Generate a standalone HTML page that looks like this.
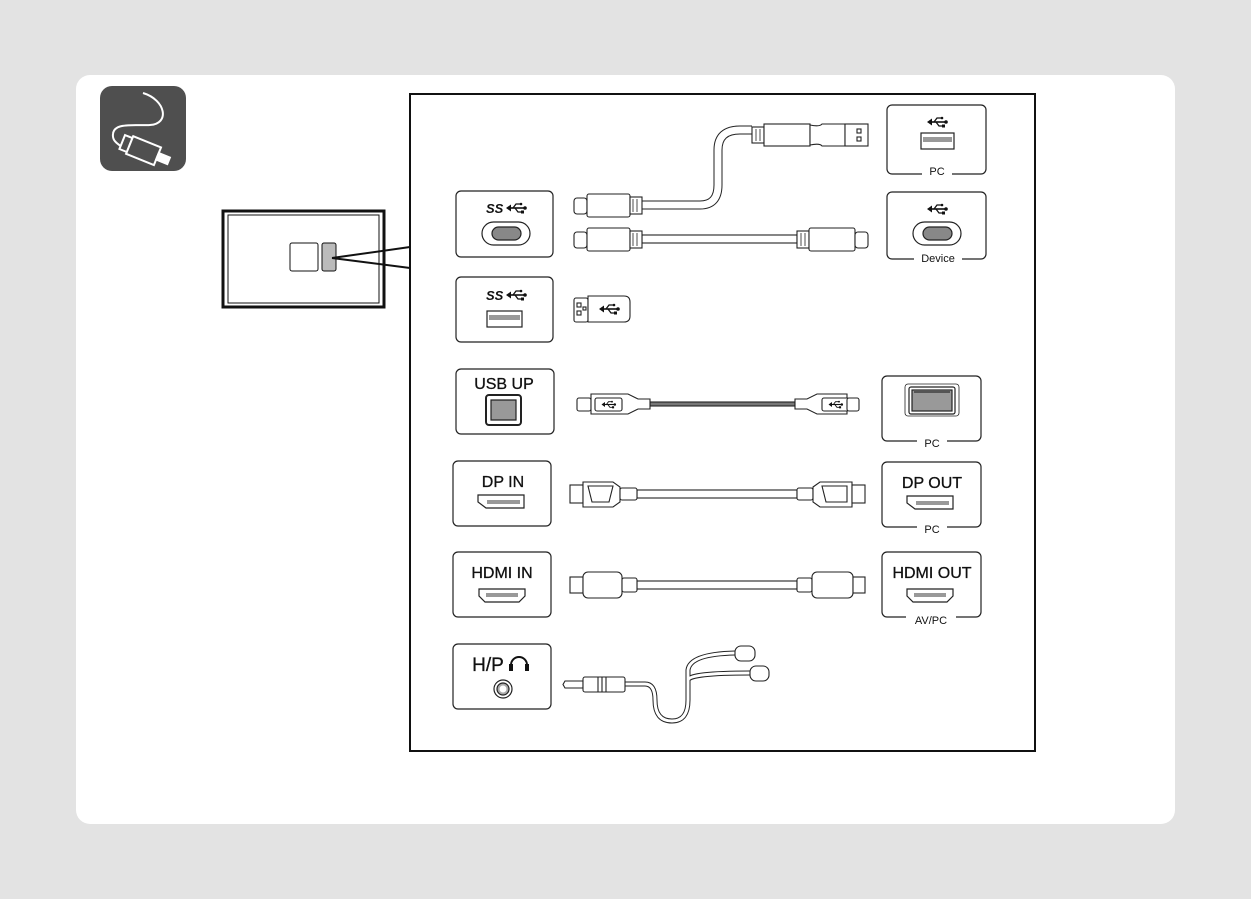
<!DOCTYPE html>
<html><head><meta charset="utf-8"><style>
html,body{margin:0;padding:0;background:#e3e3e3;}
svg{display:block;}
text{font-family:"Liberation Sans",sans-serif;fill:#111;}
</style></head><body>
<svg width="1251" height="899" viewBox="0 0 1251 899" xmlns="http://www.w3.org/2000/svg">
<defs>
<g id="tri">
<path d="M-7 0 H8" stroke="#111" stroke-width="1.6" fill="none"/>
<path d="M-10 0 L-5 -3.5 V3.5 Z" fill="#111"/>
<circle cx="9" cy="0" r="1.8" fill="#111"/>
<path d="M-3 0 L0 -4 H5 M-1 0 L2 4 H6" stroke="#111" stroke-width="1.3" fill="none"/>
<circle cx="5" cy="-4" r="1.3" fill="#111"/>
<rect x="5" y="2.5" width="3" height="3" fill="#111"/>
</g>
</defs>
<rect x="0" y="0" width="1251" height="899" fill="#e3e3e3"/>
<rect x="76" y="75" width="1099" height="749" rx="14" fill="#fff"/>
<rect x="100" y="86" width="86" height="85" rx="12" fill="#4f4f4f"/>
<path d="M143 93 C166 100 170 124 150 125 C135 126 114 122 113 134 C112 141 118 144 122 147" stroke="#fff" stroke-width="2" fill="none"/>
<g transform="rotate(22 148 153)" fill="#4f4f4f" stroke="#fff" stroke-width="2">
<rect x="120" y="145" width="8" height="15"/>
<rect x="128" y="143" width="30" height="19"/>
<rect x="158" y="149" width="12" height="7" fill="#fff"/>
</g>
<rect x="223" y="211" width="161" height="96" fill="none" stroke="#111" stroke-width="3"/>
<rect x="228" y="215" width="151" height="88" fill="none" stroke="#111" stroke-width="1"/>
<rect x="290" y="243" width="28" height="28" rx="2" fill="#fff" stroke="#111" stroke-width="1"/>
<rect x="322" y="243" width="14" height="28" rx="2" fill="#bbb" stroke="#111" stroke-width="1"/>
<path d="M332 258 L410 247 M332 258 L410 268" stroke="#111" stroke-width="2" fill="none"/>
<rect x="410" y="94" width="625" height="657" fill="#fff" stroke="#111" stroke-width="2"/>
<g fill="#fff" stroke="#222" stroke-width="1.2">
<rect x="456" y="191" width="97" height="66" rx="5"/>
<rect x="456" y="277" width="97" height="65" rx="5"/>
<rect x="456" y="369" width="98" height="65" rx="5"/>
<rect x="453" y="461" width="98" height="65" rx="5"/>
<rect x="453" y="552" width="98" height="65" rx="5"/>
<rect x="453" y="644" width="98" height="65" rx="5"/>
<rect x="887" y="105" width="99" height="69" rx="5"/>
<rect x="887" y="192" width="99" height="67" rx="5"/>
<rect x="882" y="376" width="99" height="65" rx="5"/>
<rect x="882" y="462" width="99" height="65" rx="5"/>
<rect x="882" y="552" width="99" height="65" rx="5"/>
</g>
<g fill="#fff">
<rect x="922" y="170" width="30" height="8"/>
<rect x="914" y="255" width="48" height="8"/>
<rect x="917" y="437" width="30" height="8"/>
<rect x="917" y="523" width="30" height="8"/>
<rect x="906" y="613" width="50" height="8"/>
</g>
<g font-size="11" text-anchor="middle">
<text x="937" y="175">PC</text>
<text x="938" y="262">Device</text>
<text x="932" y="447">PC</text>
<text x="932" y="533">PC</text>
<text x="931" y="624">AV/PC</text>
</g>
<g font-size="16" text-anchor="middle" stroke="#111" stroke-width="0.3">
<text x="504" y="389">USB UP</text>
<text x="503" y="487">DP IN</text>
<text x="502" y="578">HDMI IN</text>
<text x="932" y="488">DP OUT</text>
<text x="932" y="578">HDMI OUT</text>
<text x="488" y="671" font-size="19">H/P</text>
</g>
<g font-size="13" font-weight="bold" font-style="italic">
<text x="486" y="213">SS</text><text x="486" y="300">SS</text>
</g>
<use href="#tri" x="516" y="208"/>
<use href="#tri" x="516" y="295"/>
<use href="#tri" x="937" y="122"/>
<use href="#tri" x="937" y="209"/>
<path d="M511 669 v-4 a8 8 0 0 1 16 0 v4" stroke="#111" stroke-width="2" fill="none"/>
<rect x="509" y="664" width="4" height="7" fill="#111"/><rect x="525" y="664" width="4" height="7" fill="#111"/>
<g stroke="#222" stroke-width="1.2">
<rect x="482" y="222" width="48" height="23" rx="11.5" fill="#fff"/>
<rect x="492" y="227" width="29" height="13" rx="6.5" fill="#888"/>
<rect x="913" y="222" width="48" height="23" rx="11.5" fill="#fff"/>
<rect x="923" y="227" width="29" height="13" rx="6.5" fill="#888"/>
<rect x="487" y="311" width="35" height="16" fill="#fff"/>
<rect x="921" y="133" width="33" height="16" fill="#fff"/>
<rect x="486" y="395" width="35" height="30" rx="3" fill="#fff" stroke-width="2"/>
<path d="M491 400 h25 v20 h-25 v-14 z" fill="#999"/>
<rect x="905" y="384" width="54" height="32" rx="3" fill="#fff" stroke-width="0.8"/>
<rect x="909" y="387" width="46" height="27" rx="2" fill="#fff"/>
<rect x="912" y="390" width="40" height="21" fill="#999"/>
<path d="M478 495 h46 v13 h-38 l-8 -6 z" fill="#fff"/>
<path d="M907 496 h46 v13 h-38 l-8 -6 z" fill="#fff"/>
<path d="M479 589 h46 v7 l-6 6 h-34 l-6 -6 z" fill="#fff"/>
<path d="M907 589 h46 v7 l-6 6 h-34 l-6 -6 z" fill="#fff"/>
<circle cx="503" cy="689" r="9" fill="#fff"/>
<circle cx="503" cy="689" r="6" fill="#aaa"/>
</g>
<g fill="#999">
<rect x="489" y="315" width="31" height="5"/>
<rect x="923" y="137" width="29" height="5"/>
<rect x="914" y="390" width="36" height="3" fill="#555"/>
<rect x="487" y="500" width="33" height="4"/>
<rect x="916" y="501" width="33" height="4"/>
<rect x="486" y="593" width="32" height="4"/>
<rect x="914" y="593" width="32" height="4"/>
<circle cx="503" cy="689" r="3.5" fill="#fff"/>
</g>
<g fill="#fff" stroke="#222" stroke-width="1.1">
<path d="M642 205 H700 Q718 205 718 185 V150 Q718 130 740 130 H752" fill="none" stroke-width="9"/>
<path d="M642 205 H700 Q718 205 718 185 V150 Q718 130 740 130 H752" fill="none" stroke="#fff" stroke-width="7"/>
<rect x="574" y="198" width="13" height="16" rx="3"/>
<rect x="587" y="194" width="43" height="23" rx="2"/>
<rect x="630" y="197" width="12" height="17"/>
<path d="M633 199 v13 M637 199 v13" fill="none" stroke-width="0.8"/>
<rect x="752" y="127" width="12" height="16"/>
<path d="M756 129 v12 M760 129 v12" fill="none" stroke-width="0.8"/>
<rect x="764" y="124" width="46" height="22"/>
<path d="M810 125 q10 2 12 -1 h23 v22 h-23 q-2 -3 -12 -1 z"/>
<rect x="845" y="124" width="23" height="22"/>
<rect x="857" y="129" width="4" height="4"/><rect x="857" y="137" width="4" height="4"/>
<rect x="642" y="235" width="155" height="8"/>
<rect x="574" y="232" width="13" height="16" rx="3"/>
<rect x="587" y="228" width="43" height="23" rx="2"/>
<rect x="630" y="231" width="12" height="17"/>
<path d="M633 233 v13 M637 233 v13" fill="none" stroke-width="0.8"/>
<rect x="797" y="231" width="12" height="17"/>
<path d="M801 233 v13 M805 233 v13" fill="none" stroke-width="0.8"/>
<rect x="809" y="228" width="46" height="23" rx="2"/>
<rect x="855" y="232" width="13" height="16" rx="3"/>
<rect x="574" y="298" width="14" height="24" rx="2"/>
<path d="M588 296 h36 q6 0 6 6 v14 q0 6 -6 6 h-36 z"/>
<rect x="577" y="303" width="4" height="4"/><rect x="577" y="311" width="4" height="4"/><rect x="583" y="307" width="3" height="3"/>
<rect x="650" y="402" width="145" height="4" fill="#777"/>
<rect x="577" y="398" width="14" height="13" rx="2"/>
<path d="M591 394 h37 l10 5 h12 v10 h-12 l-10 5 h-37 z"/>
<rect x="595" y="398" width="27" height="13" rx="2"/>
<path d="M795 399 h12 l10 -5 h30 v20 h-30 l-10 -5 h-12 z"/>
<rect x="822" y="398" width="27" height="13" rx="2"/>
<rect x="847" y="398" width="12" height="13" rx="2"/>
<rect x="637" y="490" width="160" height="8"/>
<rect x="570" y="485" width="13" height="18"/>
<path d="M583 482 h30 l7 5 v15 l-7 5 h-30 z"/>
<rect x="620" y="488" width="17" height="12" rx="2"/>
<path d="M588 486 h25 l-4 16 h-17 z" fill="none"/>
<rect x="797" y="488" width="16" height="12" rx="2"/>
<path d="M813 487 l7 -5 h32 v25 h-32 l-7 -5 z"/>
<path d="M822 486 h25 v16 h-21 z" fill="none"/>
<rect x="852" y="485" width="13" height="18"/>
<rect x="637" y="581" width="160" height="8"/>
<rect x="570" y="577" width="13" height="16"/>
<rect x="583" y="572" width="39" height="26" rx="5"/>
<rect x="622" y="578" width="15" height="14" rx="2"/>
<rect x="797" y="578" width="15" height="14" rx="2"/>
<rect x="812" y="572" width="41" height="26" rx="5"/>
<rect x="853" y="577" width="12" height="16"/>
<path d="M625 684 H645 Q655 684 655 700 Q655 721 672 721 Q688 721 688 700 V670 Q690 654 735 653 M688 680 Q690 673 750 673" fill="none" stroke-width="5"/>
<path d="M625 684 H645 Q655 684 655 700 Q655 721 672 721 Q688 721 688 700 V670 Q690 654 735 653 M688 680 Q690 673 750 673" fill="none" stroke="#fff" stroke-width="3"/>
<path d="M565 681 h18 v7 h-18 l-2 -3.5 z"/>
<rect x="583" y="677" width="42" height="15" rx="2"/>
<path d="M598 677 v15 M602 677 v15 M606 677 v15" fill="none"/>
<rect x="735" y="646" width="20" height="15" rx="6"/>
<rect x="750" y="666" width="19" height="15" rx="6"/>
</g>
<use href="#tri" x="609" y="309"/>
<g transform="translate(608.5,404.5) scale(0.7)"><use href="#tri"/></g>
<g transform="translate(835.5,404.5) scale(0.7)"><use href="#tri"/></g>
</svg>
</body></html>
